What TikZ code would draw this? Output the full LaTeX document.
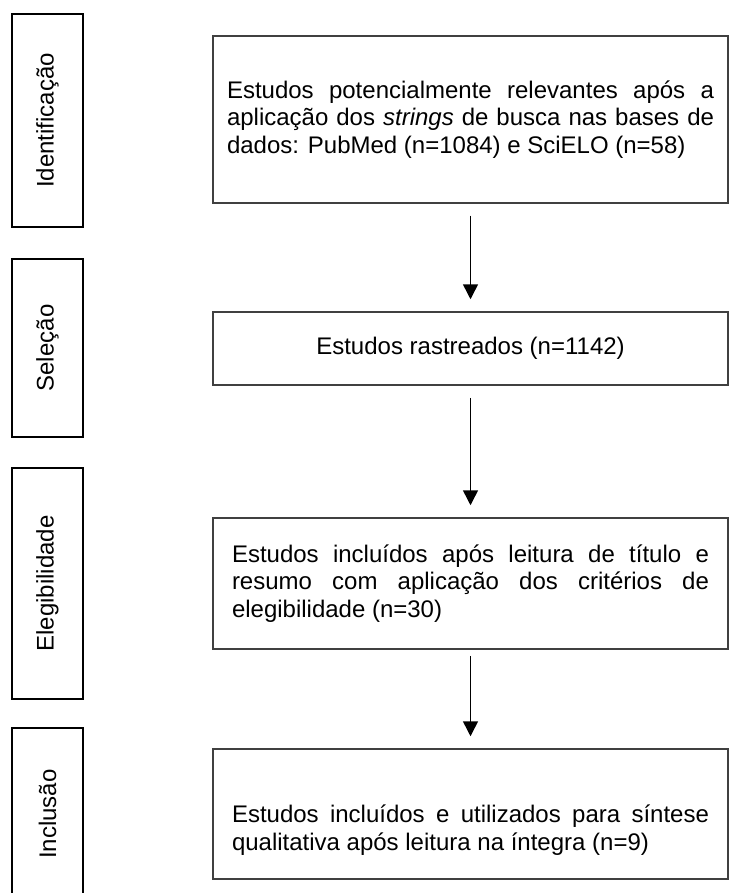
\documentclass[tikz,border=0pt]{standalone}
\usepackage{fontspec}
\setmainfont{Liberation Sans}
\usetikzlibrary{arrows.meta}
\begin{document}
\begin{tikzpicture}[x=1pt,y=-1pt,
    every node/.style={font=\fontsize{24}{27.5}\selectfont},
    fase/.style={draw=black,line width=1.2pt,rotate=90,inner sep=0pt,minimum height=71pt},
    caixa/.style={draw=black!75,line width=1.5pt,inner sep=0pt,minimum width=515pt,align=justify}]
  \useasboundingbox (0,0) rectangle (729,893);
  \clip (0,0) rectangle (729,893);
  \draw
    (47.5,120.5) node[fase,minimum width=213pt] (f1){Identificação}
    (47.5,348) node[fase,minimum width=178pt] (f2){Seleção}
    (47.5,583.5) node[fase,minimum width=231pt] (f3){Elegibilidade}
    (47.5,814) node[fase,minimum width=172pt] (f4){Inclusão}
    (470.5,119.5) node[caixa,text width=487pt,minimum height=167pt] (c1){Estudos potencialmente relevantes após a\linebreak aplicação dos \textit{strings} de busca nas bases de\linebreak dados: PubMed (n=1084) e SciELO (n=58)}
    (470.5,348.5) node[caixa,align=center,minimum height=73pt] (c2){Estudos rastreados (n=1142)}
    (470.5,583.5) node[caixa,text width=477pt,minimum height=131pt] (c3){Estudos incluídos após leitura de título e\linebreak resumo com aplicação dos critérios de\linebreak elegibilidade (n=30)}
    (470.5,814) node[caixa,align=center,minimum height=130pt] (c4){\parbox{477pt}{\vspace*{32pt}Estudos incluídos e utilizados para síntese\linebreak qualitativa após leitura na íntegra (n=9)}};
  \begin{scope}[-{Triangle[width=15pt,length=15pt]},line width=1.5pt,shorten <=12pt,shorten >=12pt]
    \draw (c1) to (c2);
    \draw (c2) to (c3);
    \draw[shorten <=6pt] (c3) to (c4);
  \end{scope}
\end{tikzpicture}
\end{document}
